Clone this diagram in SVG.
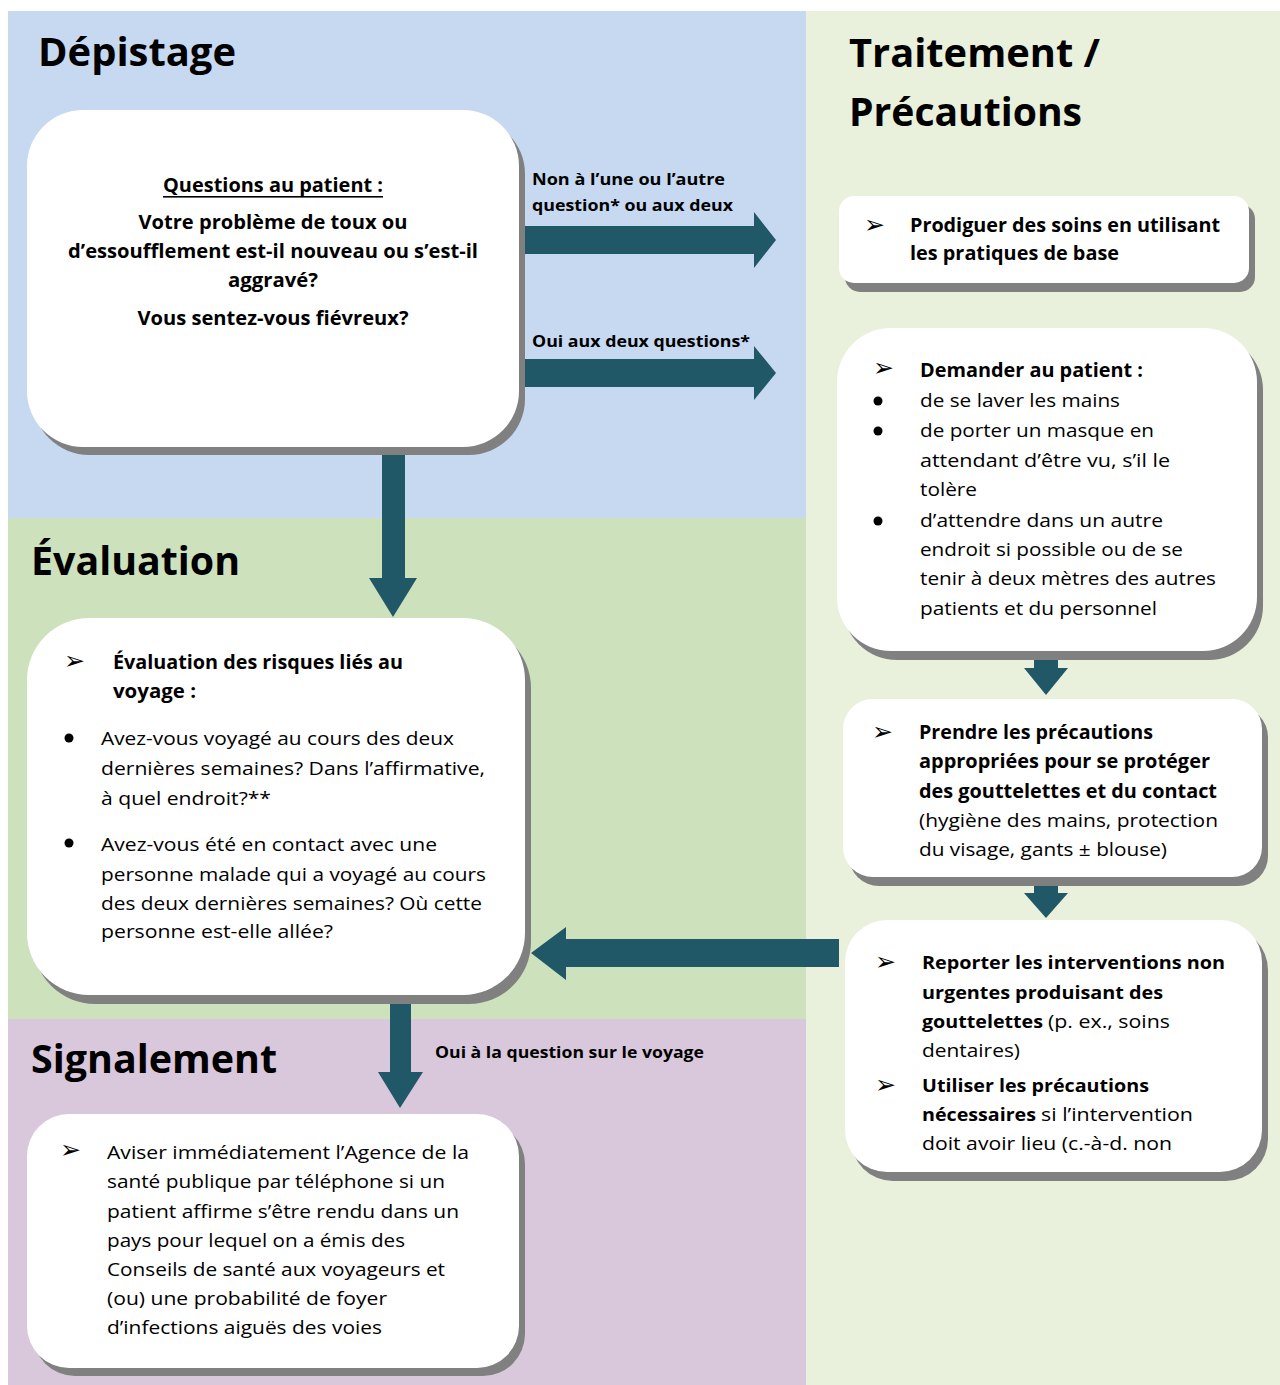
<svg xmlns="http://www.w3.org/2000/svg" width="1280" height="1385" viewBox="0 0 1280 1385">
<style>
text{font-family:"Open Sans","Liberation Sans",sans-serif;fill:#000}
.title{font-size:40px;font-weight:700}
.b{font-weight:700}
.t20{font-size:20px}
.t19{font-size:19px}
.t18{font-size:18px}
.lab{font-size:16px;font-weight:700}
.ab{font-family:"DejaVu Sans",sans-serif;font-size:25px}
.dot{fill:#000}
.box{fill:#fff}
.sh{fill:#808080}
.arr{fill:#215868}
</style>
<defs>
<clipPath id="c4"><rect x="843" y="699" width="419" height="161"/></clipPath>
<clipPath id="c5"><rect x="845" y="920" width="417" height="233"/></clipPath>
</defs>
<g id="background">
<rect x="8" y="11" width="798" height="507" fill="#c6d9f1"/>
<rect x="8" y="518" width="798" height="501" fill="#cee1bd"/>
<rect x="8" y="1019" width="798" height="366" fill="#d9c8dc"/>
<rect x="806" y="11" width="474" height="1374" fill="#e9f0dc"/>
<text class="title" x="38" y="66" textLength="198" lengthAdjust="spacingAndGlyphs">Dépistage</text>
<text class="title" x="849" y="67" textLength="251" lengthAdjust="spacingAndGlyphs">Traitement /</text>
<text class="title" x="849" y="126" textLength="233" lengthAdjust="spacingAndGlyphs">Précautions</text>
<text class="title" x="31" y="575" textLength="209" lengthAdjust="spacingAndGlyphs">Évaluation</text>
<text class="title" x="31" y="1073" textLength="246" lengthAdjust="spacingAndGlyphs">Signalement</text>
</g>
<g id="connectors">
<polygon class="arr" points="524,226 754,226 754,212 776,240 754,268 754,254 524,254"/>
<polygon class="arr" points="524,359 754,359 754,346 776,373 754,400 754,387 524,387"/>
<polygon class="arr" points="382,450 405,450 405,578 417,578 393,617 369,578 382,578"/>
<polygon class="arr" points="390,1000 411,1000 411,1072 423,1072 400,1108 378,1072 390,1072"/>
<polygon class="arr" points="1034,658 1058,658 1058,668 1068,668 1046,695 1024,668 1034,668"/>
<polygon class="arr" points="1034,884 1058,884 1058,893 1068,893 1046,918 1024,893 1034,893"/>
<polygon class="arr" points="839,939 566,939 566,927 531,953 566,980 566,967 839,967"/>
<text class="lab" x="532" y="185" textLength="193" lengthAdjust="spacingAndGlyphs">Non à l’une ou l’autre</text>
<text class="lab" x="532" y="211" textLength="201" lengthAdjust="spacingAndGlyphs">question* ou aux deux</text>
<text class="lab" x="532" y="347" textLength="218" lengthAdjust="spacingAndGlyphs">Oui aux deux questions*</text>
<text class="lab" x="435" y="1058" textLength="269" lengthAdjust="spacingAndGlyphs">Oui à la question sur le voyage</text>
</g>
<g id="node-questions">
<rect class="sh" x="33" y="118" width="492" height="337" rx="56"/>
<rect class="box" x="27" y="110" width="492" height="337" rx="56"/>
<g class="b t20" text-anchor="middle">
<text x="273" y="192" textLength="220" lengthAdjust="spacingAndGlyphs">Questions au patient :</text>
<text x="273" y="229" textLength="269" lengthAdjust="spacingAndGlyphs">Votre problème de toux ou</text>
<text x="273" y="258" textLength="410" lengthAdjust="spacingAndGlyphs">d’essoufflement est-il nouveau ou s’est-il</text>
<text x="273" y="287" textLength="90" lengthAdjust="spacingAndGlyphs">aggravé?</text>
<text x="273" y="325" textLength="271" lengthAdjust="spacingAndGlyphs">Vous sentez-vous fiévreux?</text>
</g>
<rect x="163" y="196" width="220" height="1.6" fill="#000"/>
</g>
<g id="node-pratiques">
<rect class="sh" x="845" y="204" width="410" height="88" rx="15"/>
<rect class="box" x="839" y="196" width="410" height="87" rx="15"/>
<text class="ab" x="864" y="233">➢</text>
<text class="b t20" x="910" y="232" textLength="310" lengthAdjust="spacingAndGlyphs">Prodiguer des soins en utilisant</text>
<text class="b t20" x="910" y="260" textLength="209" lengthAdjust="spacingAndGlyphs">les pratiques de base</text>
</g>
<g id="node-demander">
<rect class="sh" x="843" y="336" width="420" height="324" rx="54"/>
<rect class="box" x="837" y="328" width="420" height="323" rx="54"/>
<text class="ab" x="873" y="376">➢</text>
<text class="b t19" x="920" y="377" textLength="223" lengthAdjust="spacingAndGlyphs">Demander au patient :</text>
<circle class="dot" cx="878" cy="401" r="4.5"/>
<circle class="dot" cx="878" cy="431" r="4.5"/>
<circle class="dot" cx="878" cy="521" r="4.5"/>
<g class="t19">
<text x="920" y="407" textLength="200" lengthAdjust="spacingAndGlyphs">de se laver les mains</text>
<text x="920" y="437" textLength="234" lengthAdjust="spacingAndGlyphs">de porter un masque en</text>
<text x="920" y="467" textLength="250" lengthAdjust="spacingAndGlyphs">attendant d’être vu, s’il le</text>
<text x="920" y="496" textLength="57" lengthAdjust="spacingAndGlyphs">tolère</text>
<text x="920" y="527" textLength="243" lengthAdjust="spacingAndGlyphs">d’attendre dans un autre</text>
<text x="920" y="556" textLength="263" lengthAdjust="spacingAndGlyphs">endroit si possible ou de se</text>
<text x="920" y="585" textLength="296" lengthAdjust="spacingAndGlyphs">tenir à deux mètres des autres</text>
<text x="920" y="615" textLength="237" lengthAdjust="spacingAndGlyphs">patients et du personnel</text>
</g>
</g>
<g id="node-precautions">
<rect class="sh" x="849" y="707" width="419" height="179" rx="30"/>
<rect class="box" x="843" y="699" width="419" height="178" rx="30"/>
<text class="ab" x="872" y="740">➢</text>
<g clip-path="url(#c4)" class="t19">
<text class="b" x="919" y="739" textLength="234" lengthAdjust="spacingAndGlyphs">Prendre les précautions</text>
<text class="b" x="919" y="768" textLength="291" lengthAdjust="spacingAndGlyphs">appropriées pour se protéger</text>
<text class="b" x="919" y="798" textLength="298" lengthAdjust="spacingAndGlyphs">des gouttelettes et du contact</text>
<text x="919" y="827" textLength="299" lengthAdjust="spacingAndGlyphs">(hygiène des mains, protection</text>
<text x="919" y="856" textLength="248" lengthAdjust="spacingAndGlyphs">du visage, gants ± blouse)</text>
</g>
</g>
<g id="node-reporter">
<rect class="sh" x="851" y="928" width="417" height="253" rx="42"/>
<rect class="box" x="845" y="920" width="417" height="252" rx="42"/>
<text class="ab" x="875" y="970">➢</text>
<text class="ab" x="875" y="1093">➢</text>
<g clip-path="url(#c5)" class="t18">
<text class="b" x="922" y="969" textLength="303" lengthAdjust="spacingAndGlyphs">Reporter les interventions non</text>
<text class="b" x="922" y="999" textLength="241" lengthAdjust="spacingAndGlyphs">urgentes produisant des</text>
<text class="b" x="922" y="1028" textLength="121" lengthAdjust="spacingAndGlyphs">gouttelettes</text>
<text x="1048" y="1028" textLength="122" lengthAdjust="spacingAndGlyphs">(p. ex., soins</text>
<text x="922" y="1057" textLength="98" lengthAdjust="spacingAndGlyphs">dentaires)</text>
<text class="b" x="922" y="1092" textLength="227" lengthAdjust="spacingAndGlyphs">Utiliser les précautions</text>
<text class="b" x="922" y="1121" textLength="114" lengthAdjust="spacingAndGlyphs">nécessaires</text>
<text x="1041" y="1121" textLength="152" lengthAdjust="spacingAndGlyphs">si l’intervention</text>
<text x="922" y="1150" textLength="250" lengthAdjust="spacingAndGlyphs">doit avoir lieu (c.-à-d. non</text>
</g>
</g>
<g id="node-evaluation">
<rect class="sh" x="33" y="626" width="498" height="378" rx="62"/>
<rect class="box" x="27" y="618" width="498" height="377" rx="62"/>
<text class="ab" x="64" y="669">➢</text>
<text class="b t19" x="113" y="669" textLength="290" lengthAdjust="spacingAndGlyphs">Évaluation des risques liés au</text>
<text class="b t19" x="113" y="698" textLength="83" lengthAdjust="spacingAndGlyphs">voyage :</text>
<circle class="dot" cx="69" cy="738" r="4.5"/>
<circle class="dot" cx="69" cy="843" r="4.5"/>
<g class="t19">
<text x="101" y="745" textLength="353" lengthAdjust="spacingAndGlyphs">Avez-vous voyagé au cours des deux</text>
<text x="101" y="775" textLength="384" lengthAdjust="spacingAndGlyphs">dernières semaines? Dans l’affirmative,</text>
<text x="101" y="805" textLength="170" lengthAdjust="spacingAndGlyphs">à quel endroit?**</text>
<text x="101" y="851" textLength="336" lengthAdjust="spacingAndGlyphs">Avez-vous été en contact avec une</text>
<text x="101" y="881" textLength="385" lengthAdjust="spacingAndGlyphs">personne malade qui a voyagé au cours</text>
<text x="101" y="910" textLength="381" lengthAdjust="spacingAndGlyphs">des deux dernières semaines? Où cette</text>
<text x="101" y="938" textLength="232" lengthAdjust="spacingAndGlyphs">personne est-elle allée?</text>
</g>
</g>
<g id="node-signalement">
<rect class="sh" x="33" y="1122" width="492" height="254" rx="42"/>
<rect class="box" x="27" y="1114" width="492" height="254" rx="42"/>
<text class="ab" x="60" y="1158">➢</text>
<g class="t19">
<text x="107" y="1159" textLength="362" lengthAdjust="spacingAndGlyphs">Aviser immédiatement l’Agence de la</text>
<text x="107" y="1188" textLength="338" lengthAdjust="spacingAndGlyphs">santé publique par téléphone si un</text>
<text x="107" y="1218" textLength="352" lengthAdjust="spacingAndGlyphs">patient affirme s’être rendu dans un</text>
<text x="107" y="1247" textLength="298" lengthAdjust="spacingAndGlyphs">pays pour lequel on a émis des</text>
<text x="107" y="1276" textLength="338" lengthAdjust="spacingAndGlyphs">Conseils de santé aux voyageurs et</text>
<text x="107" y="1305" textLength="280" lengthAdjust="spacingAndGlyphs">(ou) une probabilité de foyer</text>
<text x="107" y="1334" textLength="275" lengthAdjust="spacingAndGlyphs">d’infections aiguës des voies</text>
</g>
</g>
</svg>
